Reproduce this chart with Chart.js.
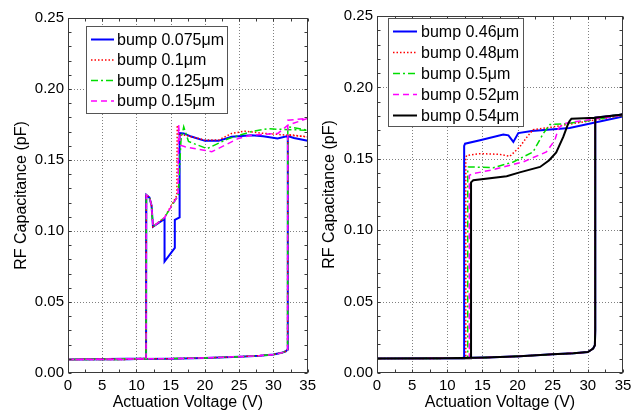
<!DOCTYPE html>
<html><head><meta charset="utf-8">
<script src="https://cdn.jsdelivr.net/npm/chart.js@4.4.1/dist/chart.umd.min.js"></script>
<style>
html,body{margin:0;padding:0;background:#fff;overflow:hidden;width:639px;height:410px}
#l{position:absolute;left:0;top:0;width:320px;height:410px}
#r{position:absolute;left:320px;top:0;width:319px;height:410px}
</style>
</head><body>
<canvas id="l" width="320" height="410"></canvas>
<canvas id="r" width="319" height="410"></canvas>
<script>
// ---------- tick labels ----------
const xTicks = [0, 5, 10, 15, 20, 25, 30, 35];
const yTicks = [0, 0.05, 0.10, 0.15, 0.20, 0.25];
const xTitle = 'Actuation Voltage (V)';
const yTitle = 'RF Capacitance (pF)';

// ---------- left panel ----------
const leftLabels = ['bump 0.075μm', 'bump 0.1μm', 'bump 0.125μm', 'bump 0.15μm'];
// shared loading sweep (before pull-in)
const leftUpV = [0, 9, 10, 15, 20, 25, 28, 30, 31.2, 31.8, 32.07];
const leftUpC = [0.0095, 0.0096, 0.0099, 0.0101, 0.0106, 0.0115, 0.0122, 0.013, 0.0142, 0.0153, 0.0165];
// after pull-in and the return sweep
const b075V = [32.1, 33, 35, 33, 32.1, 30.6, 28.5, 26.8, 23.9, 22, 20, 18, 16.9, 16.3, 16.3, 15.6, 15.6, 14.1, 14.1, 12.41, 12.2, 11.9, 11.44, 11.4, 0];
const b075C = [0.1668, 0.1655, 0.1635, 0.1655, 0.1668, 0.1652, 0.1668, 0.1675, 0.1664, 0.1635, 0.1635, 0.1665, 0.1687, 0.169, 0.1096, 0.1078, 0.0881, 0.0785, 0.1085, 0.103, 0.118, 0.1235, 0.1254, 0.0102, 0.0095];
const b100V = [32.1, 35, 32.1, 28.7, 25.8, 23.9, 21.97, 20, 17.1, 16.2, 15.95, 15.9, 14.1, 12.41, 12.2, 11.9, 11.44, 11.4, 0];
const b100C = [0.168, 0.1663, 0.1675, 0.1687, 0.1703, 0.1687, 0.164, 0.164, 0.1675, 0.1675, 0.1745, 0.125, 0.1095, 0.103, 0.118, 0.1235, 0.1254, 0.0102, 0.0095];
const b125V = [32.1, 35, 31.6, 29.2, 26.8, 23.4, 20.3, 17.6, 16.9, 16.5, 16.1, 14.1, 12.41, 12.2, 11.9, 11.44, 11.4, 0];
const b125C = [0.1734, 0.171, 0.1715, 0.172, 0.170, 0.165, 0.158, 0.163, 0.1734, 0.164, 0.125, 0.1095, 0.103, 0.118, 0.1235, 0.1254, 0.0102, 0.0095];
const b150V = [32.1, 35, 32.1, 30.65, 26.8, 24.9, 21.0, 17.1, 16.4, 16.15, 16.07, 14.1, 12.41, 12.2, 11.9, 11.44, 11.4, 0];
const b150C = [0.178, 0.1793, 0.1745, 0.1687, 0.1675, 0.1652, 0.1558, 0.1593, 0.1605, 0.175, 0.125, 0.1095, 0.103, 0.118, 0.1235, 0.1254, 0.0102, 0.0095];

// ---------- right panel ----------
const rightLabels = ['bump 0.46μm', 'bump 0.48μm', 'bump 0.5μm', 'bump 0.52μm', 'bump 0.54μm'];
const rightUpV = [0, 10, 15.6, 20.3, 25, 28, 30, 30.75, 31.0, 31.05, 31.05, 35];
const rightUpC = [0.0101, 0.0103, 0.0108, 0.0117, 0.0131, 0.0138, 0.0147, 0.0171, 0.0194, 0.03, 0.1788, 0.181];
const b46V = [35, 27.4, 22.0, 20.1, 19.4, 18.7, 17.97, 14.66, 12.53, 12.4, 12.4, 0];
const b46C = [0.1797, 0.1716, 0.1695, 0.168, 0.1618, 0.1664, 0.167, 0.163, 0.1606, 0.159, 0.0103, 0.0101];
const b48V = [35, 25.06, 22.2, 21.3, 20.3, 18.9, 17.5, 14.66, 12.77, 12.63, 12.63, 0];
const b48C = [0.1805, 0.1723, 0.1704, 0.165, 0.1583, 0.1517, 0.1531, 0.1536, 0.1524, 0.151, 0.0103, 0.0101];
const b50V = [35, 27.0, 24.6, 23.65, 22.2, 19.4, 16.55, 13.0, 12.91, 12.91, 0];
const b50C = [0.1803, 0.1746, 0.174, 0.1676, 0.1548, 0.1478, 0.1438, 0.1443, 0.143, 0.0103, 0.0101];
const b52V = [35, 27.9, 26.5, 25.8, 25.3, 24.1, 20.8, 16.55, 13.7, 13.14, 13.14, 0];
const b52C = [0.1805, 0.1758, 0.1746, 0.1711, 0.163, 0.1548, 0.1478, 0.1424, 0.1396, 0.1385, 0.0103, 0.0101];
const b54V = [35, 31.1, 27.66, 27.4, 27.2, 26.5, 25.5, 24.5, 23.2, 20.3, 18.45, 13.7, 13.38, 13.38, 0];
const b54C = [0.181, 0.1788, 0.178, 0.1765, 0.1746, 0.1653, 0.1545, 0.149, 0.1443, 0.1405, 0.1378, 0.135, 0.1335, 0.0103, 0.0101];

const FONT = "'Liberation Sans', Arial, sans-serif";

function pts(v1, c1, v2, c2) {
  const out = v1.map((v, k) => ({x: v, y: c1[k]}));
  return out.concat(v2.map((v, k) => ({x: v, y: c2[k]})));
}

const deco = {
  id: 'deco',
  beforeDatasetsDraw(chart) {
    const {ctx, chartArea: a, scales: {x, y}} = chart;
    ctx.save();
    ctx.strokeStyle = '#808080'; ctx.lineWidth = 1; ctx.setLineDash([1, 2]);
    ctx.beginPath();
    xTicks.forEach(v => { if (v <= x.min || v >= x.max) return;
      const p = Math.round(x.getPixelForValue(v)) + 0.5; ctx.moveTo(p, a.top); ctx.lineTo(p, a.bottom); });
    yTicks.forEach(v => { if (v <= y.min || v >= y.max) return;
      const p = Math.round(y.getPixelForValue(v)) + 0.5; ctx.moveTo(a.left, p); ctx.lineTo(a.right, p); });
    ctx.stroke();
    ctx.restore();
  },
  afterDatasetsDraw(chart, args, o) {
    const {ctx, chartArea: a, scales: {x, y}} = chart;
    ctx.save();
    ctx.strokeStyle = '#3a3a3a'; ctx.lineWidth = 1; ctx.setLineDash([]);
    const L = Math.round(a.left) + 0.5, R = Math.round(a.right) - 0.5, T = Math.round(a.top) + 0.5, B = Math.round(a.bottom) - 0.5;
    ctx.strokeRect(L, T, R - L, B - T);
    ctx.beginPath();
    for (let v = x.min; v <= x.max + 1e-9; v += o.xMinor) {
      const p = Math.round(x.getPixelForValue(v)) + 0.5;
      ctx.moveTo(p, B); ctx.lineTo(p, B - 3); ctx.moveTo(p, T); ctx.lineTo(p, T + 3);
    }
    for (let v = y.min; v <= y.max + 1e-9; v += o.yMinor) {
      const p = Math.round(y.getPixelForValue(v)) + 0.5;
      ctx.moveTo(L, p); ctx.lineTo(L + 3, p); ctx.moveTo(R, p); ctx.lineTo(R - 3, p);
    }
    ctx.stroke();
    // legend
    const b = o.box;
    ctx.fillStyle = '#fff'; ctx.fillRect(b.x, b.y, b.w, b.h);
    ctx.strokeStyle = '#555'; ctx.strokeRect(b.x + 0.5, b.y + 0.5, b.w, b.h);
    ctx.font = '16px ' + FONT; ctx.textBaseline = 'middle'; ctx.textAlign = 'left';
    chart.data.datasets.forEach((d, i) => {
      const ry = b.row0 + i * b.step;
      ctx.strokeStyle = d.borderColor; ctx.lineWidth = d.borderWidth; ctx.setLineDash(d.borderDash || []);
      ctx.beginPath(); ctx.moveTo(b.l0, ry); ctx.lineTo(b.l1, ry); ctx.stroke();
      ctx.fillStyle = '#000'; ctx.fillText(d.label, b.tx, ry + 1);
    });
    ctx.restore();
  }
};

function build(id, labels, series, colors, dashes, widths, lay) {
  const datasets = series.map((s, i) => ({
    label: labels[i], data: s, showLine: true, borderColor: colors[i], backgroundColor: colors[i],
    borderWidth: widths[i], borderDash: dashes[i], pointRadius: 0, fill: false, tension: 0,
    order: series.length - i
  }));
  new Chart(document.getElementById(id), {
    type: 'scatter',
    data: {datasets},
    options: {
      responsive: false, animation: false, devicePixelRatio: 1,
      layout: {padding: {left: 0, right: lay.padR, top: lay.padT, bottom: 0}},
      plugins: {legend: {display: false}, tooltip: {enabled: false},
        deco: {xMinor: 2.5, yMinor: 0.01, box: lay.box}},
      scales: {
        x: {type: 'linear', min: 0, max: 35,
          afterBuildTicks: s => { s.ticks = xTicks.map(v => ({value: v})); },
          afterFit: s => { s.height = lay.xH; },
          grid: {display: false, drawTicks: false}, border: {display: false},
          ticks: {padding: 4, color: '#000', font: {family: FONT, size: 15}, maxRotation: 0, autoSkip: false,
            callback: v => String(v)},
          title: {display: true, text: xTitle, color: '#000', font: {family: FONT, size: 16, lineHeight: 1},
            padding: {top: 0, bottom: lay.xTitlePad}}
        },
        y: {type: 'linear', min: 0, max: 0.25,
          afterBuildTicks: s => { s.ticks = yTicks.map(v => ({value: v})); },
          afterFit: s => { s.width = lay.yW; },
          grid: {display: false, drawTicks: false}, border: {display: false},
          ticks: {padding: 4, color: '#000', font: {family: FONT, size: 15}, autoSkip: false,
            callback: v => v.toFixed(2)},
          title: {display: true, text: yTitle, color: '#000', font: {family: FONT, size: 16, lineHeight: 1},
            padding: {top: lay.yTitlePad, bottom: 0}}
        }
      }
    },
    plugins: [deco]
  });
}

build('l', leftLabels,
  [pts(leftUpV, leftUpC, b075V, b075C), pts(leftUpV, leftUpC, b100V, b100C),
   pts(leftUpV, leftUpC, b125V, b125C), pts(leftUpV, leftUpC, b150V, b150C)],
  ['#0000ff', '#ff0000', '#00dd00', '#ff00ff'],
  [[], [1.5, 2], [7, 3, 2, 3], [6, 4]],
  [2, 1.5, 1.5, 1.5],
  {padR: 10, padT: 18, xH: 37, yW: 68, xTitlePad: -1, yTitlePad: 14,
   box: {x: 86, y: 26, w: 141, h: 87, row0: 39.5, step: 20.5, l0: 91, l1: 114, tx: 117}});

build('r', rightLabels,
  [pts(rightUpV, rightUpC, b46V, b46C), pts(rightUpV, rightUpC, b48V, b48C),
   pts(rightUpV, rightUpC, b50V, b50C), pts(rightUpV, rightUpC, b52V, b52C),
   pts(rightUpV, rightUpC, b54V, b54C)],
  ['#0000ff', '#ff0000', '#00dd00', '#ff00ff', '#000000'],
  [[], [1.5, 2], [7, 3, 2, 3], [6, 4], []],
  [2, 1.5, 1.5, 1.5, 2],
  {padR: 16, padT: 16, xH: 37, yW: 57, xTitlePad: -1, yTitlePad: 1.5,
   box: {x: 68, y: 18, w: 135, h: 108, row0: 31.5, step: 21, l0: 73, l1: 97, tx: 101}});
</script>
</body></html>
